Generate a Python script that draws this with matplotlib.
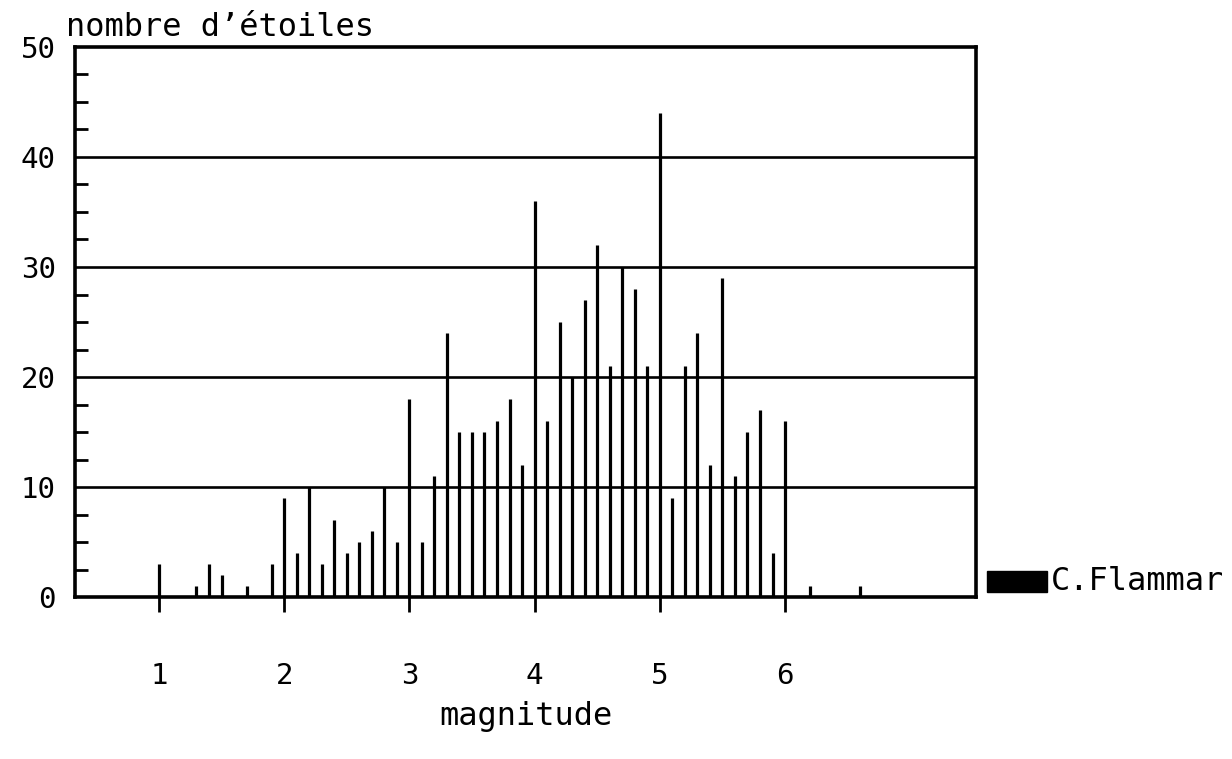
import numpy as np
import matplotlib
matplotlib.use("Agg")
import matplotlib.pyplot as plt
from matplotlib.patches import Rectangle

# Histogramme des magnitudes (pas de 0.1)
magnitudes = [1.0, 1.3, 1.4, 1.5, 1.7, 1.9,
              2.0, 2.1, 2.2, 2.3, 2.4, 2.5, 2.6, 2.7, 2.8, 2.9,
              3.0, 3.1, 3.2, 3.3, 3.4, 3.5, 3.6, 3.7, 3.8, 3.9,
              4.0, 4.1, 4.2, 4.3, 4.4, 4.5, 4.6, 4.7, 4.8, 4.9,
              5.0, 5.1, 5.2, 5.3, 5.4, 5.5, 5.6, 5.7, 5.8, 5.9,
              6.0, 6.2, 6.6]
nb_etoiles = [3, 1, 3, 2, 1, 3,
              9, 4, 10, 3, 7, 4, 5, 6, 10, 5,
              18, 5, 11, 24, 15, 15, 15, 16, 18, 12,
              36, 16, 25, 20, 27, 32, 21, 30, 28, 21,
              44, 9, 21, 24, 12, 29, 11, 15, 17, 4,
              16, 1, 1]

x_ticks = [1, 2, 3, 4, 5, 6]
y_ticks = [0, 10, 20, 30, 40, 50]
grid_levels = [10, 20, 30, 40]

FONT = "DejaVu Sans Mono"
FS_TICK = 21
FS_TXT = 23

fig = plt.figure(figsize=(12.32, 7.59), dpi=100)
ax = fig.add_axes([0.0609, 0.2134, 0.7313, 0.7247])

# lignes horizontales
for lvl in grid_levels:
    ax.axhline(lvl, color="black", lw=1.9, zorder=1)

ax.vlines(magnitudes, 0, nb_etoiles, color="black", lw=2.3, zorder=2)

ax.set_xlim(0.33, 7.525)
ax.set_ylim(0, 50)

for s in ax.spines.values():
    s.set_linewidth(2.6)

ax.set_xticks(x_ticks)
ax.set_xticklabels([str(t) for t in x_ticks], fontsize=FS_TICK, family=FONT)
ax.tick_params(axis="x", direction="out", length=11, width=2, pad=36)

ax.set_yticks(y_ticks)
ax.set_yticklabels([str(t) for t in y_ticks], fontsize=FS_TICK, family=FONT)
ax.set_yticks(np.arange(0, 50.1, 2.5), minor=True)
ax.tick_params(axis="y", which="major", length=0, pad=14)
ax.tick_params(axis="y", which="minor", direction="in", length=9, width=2)

ax.set_xlabel("magnitude", fontsize=FS_TXT, family=FONT, labelpad=8)

fig.text(66 / 1232, 1 - 36 / 759, "nombre d\u2019\u00e9toiles",
         fontsize=FS_TXT, family=FONT, va="baseline", ha="left")

# légende
fig.patches.append(Rectangle((987 / 1232, 1 - 592 / 759), 60 / 1232, 21 / 759,
                             transform=fig.transFigure, color="black"))
fig.text(1051 / 1232, 1 - 582 / 759, "C.Flammar", fontsize=FS_TXT, family=FONT,
         va="center", ha="left")

fig.savefig("out.png", dpi=100)
